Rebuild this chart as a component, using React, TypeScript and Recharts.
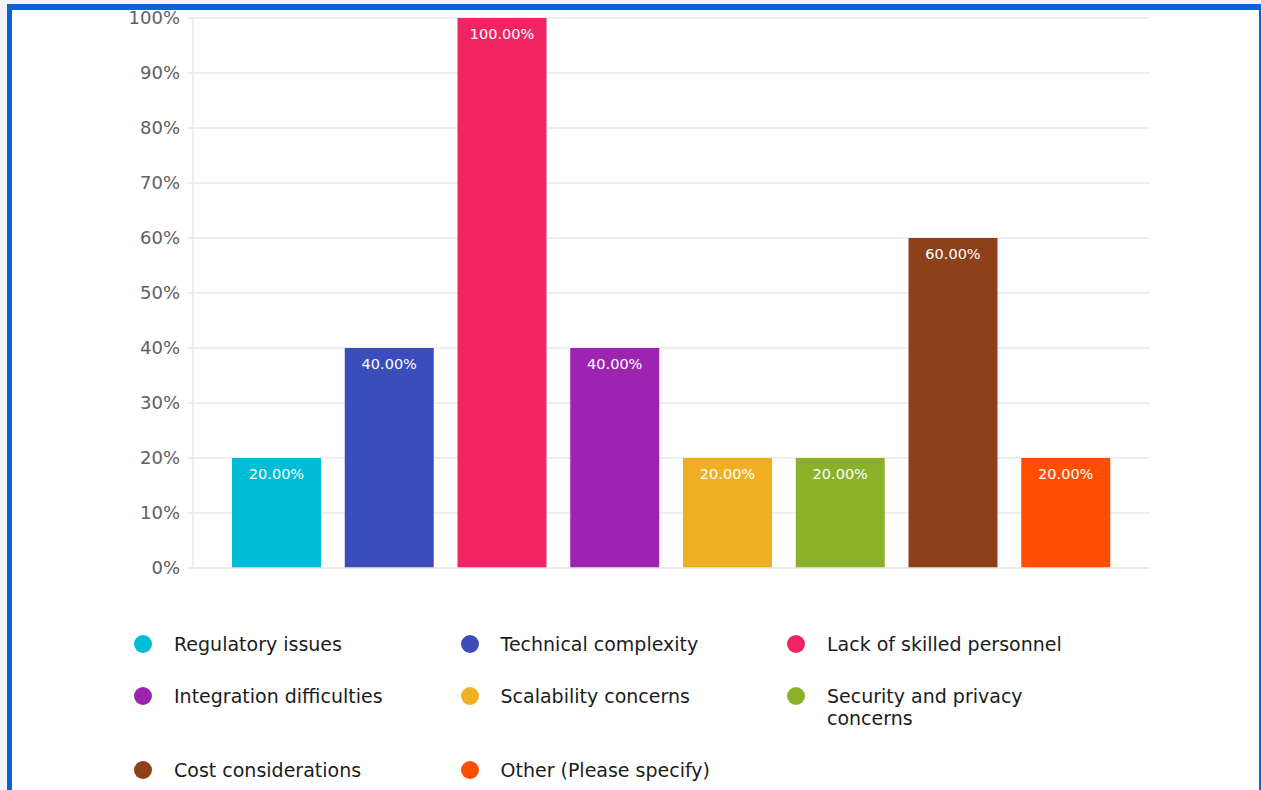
import React from 'react'
import { BarChart, Bar, XAxis, YAxis, CartesianGrid, Cell, LabelList } from 'recharts'

const categories = [
  'Regulatory issues',
  'Technical complexity',
  'Lack of skilled personnel',
  'Integration difficulties',
  'Scalability concerns',
  'Security and privacy concerns',
  'Cost considerations',
  'Other (Please specify)',
]
const percentages = [20, 40, 100, 40, 20, 20, 60, 20]
const barColors = ['#00bcd6', '#3a4dbb', '#f02462', '#9c24b0', '#f0af22', '#8bb128', '#8e401b', '#ff4e00']
const yTicks = [0, 10, 20, 30, 40, 50, 60, 70, 80, 90, 100]

const FONT = '"DejaVu Sans", sans-serif'
const GRID = '#e9e9e9'

const chartData = categories.map((name, i) => ({ name, value: percentages[i] }))

const ChartLegend: React.FC = () => (
  <div
    style={{
      position: 'absolute',
      left: 134,
      top: 633,
      display: 'grid',
      gridTemplateColumns: 'repeat(3, 326.5px)',
      rowGap: 30,
      fontFamily: FONT,
      fontSize: 19,
      lineHeight: '22px',
      color: '#1c1c1c',
    }}
  >
    {categories.map((name, i) => (
      <div key={name} style={{ display: 'flex', alignItems: 'flex-start' }}>
        <span
          style={{
            width: 18,
            height: 18,
            borderRadius: '50%',
            background: barColors[i],
            marginTop: 2,
            flexShrink: 0,
          }}
        />
        <span style={{ marginLeft: 22, maxWidth: 250 }}>{name}</span>
      </div>
    ))}
  </div>
)

export default function App() {
  return (
    <div
      style={{
        position: 'absolute',
        left: 0,
        top: 0,
        width: 1261,
        height: 790,
        overflow: 'hidden',
        background: '#f1f3f4',
      }}
    >
      <div
        style={{
          position: 'absolute',
          left: 7,
          top: 4,
          width: 1247,
          height: 800,
          borderStyle: 'solid',
          borderColor: '#0a63d3',
          borderWidth: '6px 5px 5px 5px',
          background: '#fff',
        }}
      />
      <div style={{ position: 'absolute', left: 0, top: 0 }}>
        <BarChart
          width={1261}
          height={580}
          data={chartData}
          margin={{ top: 18, right: 111, bottom: 11, left: 0 }}
        >
          <CartesianGrid vertical={false} stroke={GRID} strokeWidth={1.5} />
          <XAxis
            dataKey="name"
            tick={false}
            tickLine={false}
            axisLine={{ stroke: GRID, strokeWidth: 1.5 }}
            height={1}
            padding={{ left: 27, right: 28 }}
          />
          <YAxis
            width={193}
            domain={[0, 100]}
            ticks={yTicks}
            interval={0}
            tickFormatter={v => `${v}%`}
            tickSize={5}
            tickMargin={8}
            tick={{ fontSize: 18, fill: '#606060', fontFamily: FONT }}
            tickLine={{ stroke: GRID, strokeWidth: 1.5 }}
            axisLine={{ stroke: GRID, strokeWidth: 1.5 }}
          />
          <Bar dataKey="value" barSize={89} isAnimationActive={false}>
            {chartData.map((entry, i) => (
              <Cell key={entry.name} fill={barColors[i]} />
            ))}
            <LabelList
              dataKey="value"
              position="insideTop"
              offset={11}
              fill="#fff"
              fontSize={14.5}
              fontFamily={FONT}
              formatter={(v: any) => `${Number(v).toFixed(2)}%`}
            />
          </Bar>
        </BarChart>
      </div>
      <ChartLegend />
    </div>
  )
}
